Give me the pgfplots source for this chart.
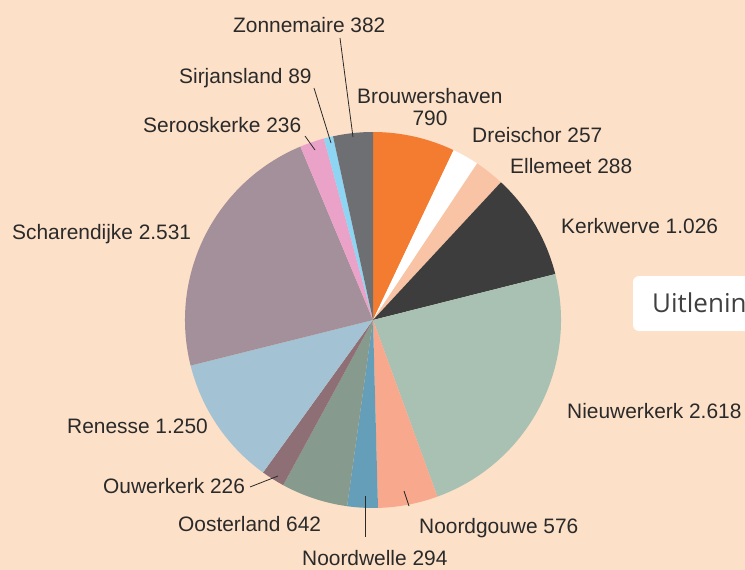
\documentclass[border=0pt]{standalone}
\usepackage{fontspec}
\setmainfont{Liberation Sans}
\newfontfamily\callfont{Open Sans}
\usepackage{pgfplots}
\usepackage{pgfplotstable}
\pgfplotsset{compat=1.18}

\definecolor{bg}{HTML}{FDE0C8}
\definecolor{labcol}{HTML}{2A2A2A}
\definecolor{cBrou}{HTML}{F47C30}
\definecolor{cDrei}{HTML}{FFFFFF}
\definecolor{cElle}{HTML}{F9C4A5}
\definecolor{cKerk}{HTML}{3D3D3D}
\definecolor{cNieu}{HTML}{A8C1B3}
\definecolor{cNgou}{HTML}{F8A98D}
\definecolor{cNwel}{HTML}{659EB9}
\definecolor{cOost}{HTML}{869B8D}
\definecolor{cOuwe}{HTML}{8F6F76}
\definecolor{cRene}{HTML}{A3C3D4}
\definecolor{cScha}{HTML}{A3909A}
\definecolor{cSero}{HTML}{EBA2C8}
\definecolor{cSirj}{HTML}{8ED4F3}
\definecolor{cZonn}{HTML}{6E6F73}

% loans per village, clockwise from the top
\pgfplotstableread{
name          value col
Brouwershaven 790   cBrou
Dreischor     257   cDrei
Ellemeet      288   cElle
Kerkwerve     1026  cKerk
Nieuwerkerk   2618  cNieu
Noordgouwe    576   cNgou
Noordwelle    294   cNwel
Oosterland    642   cOost
Ouwerkerk     226   cOuwe
Renesse       1250  cRene
Scharendijke  2531  cScha
Serooskerke   236   cSero
Sirjansland   89    cSirj
Zonnemaire    382   cZonn
}\pietable

\tikzset{
  lab/.style={font=\fontsize{20.9}{24}\selectfont, text=labcol, inner sep=0pt, anchor=base west},
  lead/.style={draw=labcol, line width=0.8pt},
}

\begin{document}
\begin{tikzpicture}
\begin{axis}[
  name=ax,
  at={(0,0)}, anchor=south west,
  scale only axis, width=745pt, height=570pt,
  xmin=0, xmax=745, ymin=0, ymax=570,
  y dir=reverse,
  hide axis,
  clip=false,
]
\fill[bg] (axis cs:0,0) rectangle (axis cs:745,570);

\pgfplotstablegetrowsof{\pietable}
\pgfmathtruncatemacro\last{\pgfplotsretval-1}
\def\total{0}
\pgfplotsforeachungrouped \i in {0,...,\last}{%
  \pgfplotstablegetelem{\i}{value}\of\pietable
  \pgfmathsetmacro\total{\total+\pgfplotsretval}%
}
\def\cum{0}
\pgfplotsforeachungrouped \i in {0,...,\last}{%
  \pgfplotstablegetelem{\i}{value}\of\pietable \let\val\pgfplotsretval
  \pgfplotstablegetelem{\i}{col}\of\pietable \let\col\pgfplotsretval
  \pgfmathsetmacro\start{90-360*(\cum/\total)}%
  \pgfmathsetmacro\cum{\cum+\val}%
  \pgfmathsetmacro\stop{90-360*(\cum/\total)}%
  \edef\tmp{\noexpand\fill[\col] (axis cs:373,320) -- ++(\start:188pt)
    arc[start angle=\start, end angle=\stop, radius=188pt] -- cycle;}%
  \tmp
}

% labels
\node[lab] at (axis cs:233,32) {Zonnemaire 382};
\node[lab] at (axis cs:179,83) {Sirjansland 89};
\node[lab] at (axis cs:357,103) {Brouwershaven};
\node[lab, anchor=base] at (axis cs:430,125) {790};
\node[lab] at (axis cs:143,132) {Serooskerke 236};
\node[lab] at (axis cs:472,142) {Dreischor 257};
\node[lab] at (axis cs:510,173) {Ellemeet 288};
\node[lab] at (axis cs:561,233) {Kerkwerve 1.026};
\node[lab] at (axis cs:12,239) {Scharendijke 2.531};
\node[lab] at (axis cs:567,418) {Nieuwerkerk 2.618};
\node[lab] at (axis cs:67,433) {Renesse 1.250};
\node[lab] at (axis cs:103,493) {Ouwerkerk 226};
\node[lab] at (axis cs:178,531) {Oosterland 642};
\node[lab] at (axis cs:419,533) {Noordgouwe 576};
\node[lab] at (axis cs:302,565) {Noordwelle 294};

% leader lines
\draw[lead] (axis cs:340,38) -- (axis cs:353,137);
\draw[lead] (axis cs:314,88) -- (axis cs:331,143);
\draw[lead] (axis cs:305,136) -- (axis cs:315,150);
\draw[lead] (axis cs:250,487) -- (axis cs:278,476);
\draw[lead] (axis cs:365,496) -- (axis cs:365,537);
\draw[lead] (axis cs:404,491) -- (axis cs:409,506);

% callout at the right edge
\fill[white, rounded corners=6pt] (axis cs:633,276) rectangle (axis cs:780,331);
\node[font=\callfont\fontsize{26}{30}\selectfont, text=black!75, inner sep=0pt, anchor=base west]
  at (axis cs:652,312) {Uitleningen};
\end{axis}
\pgfresetboundingbox
\path[use as bounding box] (ax.south west) rectangle (ax.north east);
\end{tikzpicture}
\end{document}
